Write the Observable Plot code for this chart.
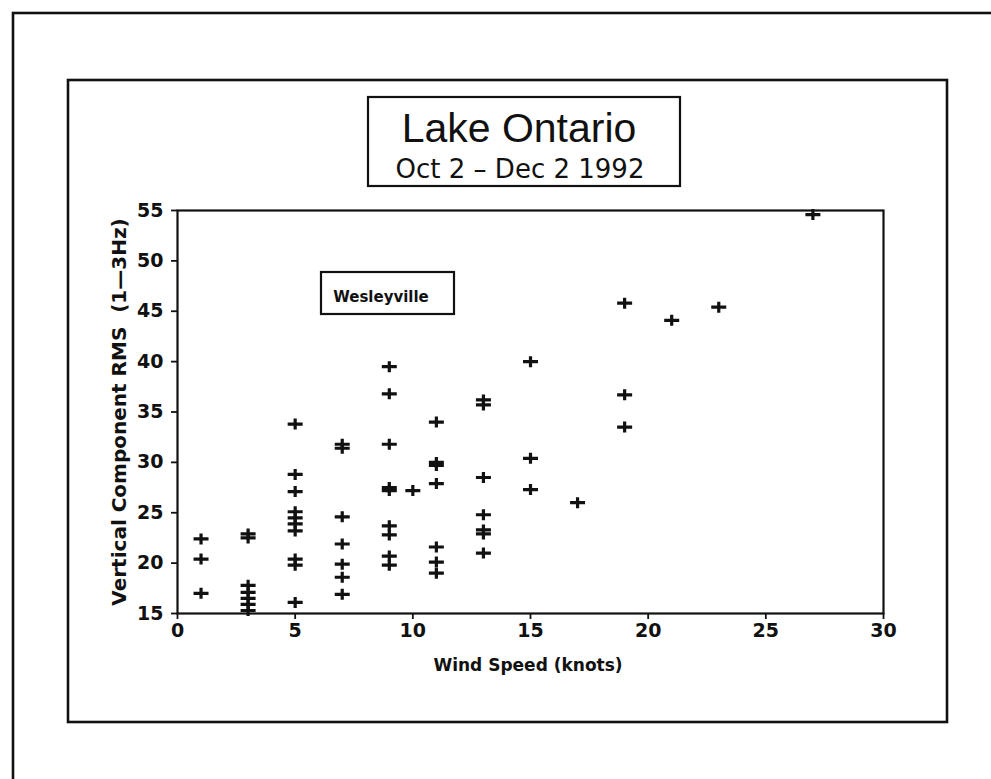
<!DOCTYPE html>
<html>
<head>
<meta charset="utf-8">
<script src="https://cdn.jsdelivr.net/npm/d3@7"></script>
<script src="https://cdn.jsdelivr.net/npm/@observablehq/plot@0.6"></script>
<style>
  html, body { margin: 0; padding: 0; background: #fff; }
  #chart { position: relative; width: 991px; height: 779px; overflow: hidden; }
</style>
</head>
<body>
<div id="chart"></div>
<script>
// Wind speed (knots) and vertical component RMS (1-3 Hz), Wesleyville
const windSpeed = [
  1, 1, 1,
  3, 3, 3, 3, 3, 3, 3,
  5, 5, 5, 5, 5, 5, 5, 5, 5, 5,
  7, 7, 7, 7, 7, 7, 7,
  9, 9, 9, 9, 9, 9, 9, 9, 9,
  10,
  11, 11, 11, 11, 11, 11, 11,
  13, 13, 13, 13, 13, 13, 13,
  15, 15, 15,
  17,
  19, 19, 19,
  21,
  23,
  27
];
const rms = [
  22.4, 20.4, 17.0,
  22.9, 22.5, 17.8, 17.1, 16.5, 15.9, 15.3,
  33.8, 28.8, 27.1, 25.1, 24.5, 23.9, 23.2, 20.4, 19.8, 16.1,
  31.8, 31.4, 24.6, 21.9, 19.9, 18.6, 16.9,
  39.5, 36.8, 31.8, 27.5, 27.2, 23.7, 22.8, 20.7, 19.8,
  27.2,
  34.0, 30.0, 29.7, 27.9, 21.6, 20.1, 19.0,
  36.2, 35.7, 28.5, 24.8, 23.3, 22.9, 21.0,
  40.0, 30.4, 27.3,
  26.0,
  45.8, 36.7, 33.5,
  44.1,
  45.4,
  54.6
];
const xTicks = [0, 5, 10, 15, 20, 25, 30];
const yTicks = [15, 20, 25, 30, 35, 40, 45, 50, 55];
const titleText = "Lake Ontario";
const subtitleText = "Oct 2 \u2013 Dec 2 1992";
const stationText = "Wesleyville";
const xLabelText = "Wind Speed (knots)";
const yLabelText = "Vertical Component RMS  (1\u20143Hz)";

const points = windSpeed.map((w, i) => ({w, v: rms[i]}));

const plusSymbol = {
  draw(ctx) {
    ctx.moveTo(-7.5, 0); ctx.lineTo(7.5, 0);
    ctx.moveTo(0, -5.5); ctx.lineTo(0, 5.5);
  }
};

const plot = Plot.plot({
  width: 991,
  height: 779,
  marginLeft: 177,
  marginRight: 108,
  marginTop: 210,
  marginBottom: 166,
  style: {fontFamily: "DejaVu Sans", fontSize: "19px", fontWeight: "bold", color: "#111", background: "#fff"},
  x: {domain: [0, 30], ticks: xTicks, label: null},
  y: {domain: [15, 55], ticks: yTicks, label: null},
  marks: [
    Plot.axisX({ticks: xTicks, tickSize: 6, tickPadding: 4, label: null, stroke: "#111", strokeWidth: 1.8}),
    Plot.axisY({ticks: yTicks, tickSize: 6, tickPadding: 8, label: null, stroke: "#111", strokeWidth: 1.8}),
    Plot.frame({stroke: "#111", strokeWidth: 2.2}),
    Plot.dot(points, {x: "w", y: "v", symbol: plusSymbol, r: 5, stroke: "#111", fill: "none", strokeWidth: 3.2})
  ]
});

const svg = d3.select(plot);
const deco = svg.append("g").attr("fill", "none").attr("stroke", "#111");
// outer page frame (extends past the right and bottom edges)
deco.append("rect").attr("x", 13).attr("y", 13).attr("width", 1100).attr("height", 900).attr("stroke-width", 2.6);
// inner figure frame
deco.append("rect").attr("x", 68).attr("y", 80).attr("width", 879).attr("height", 642).attr("stroke-width", 2.6);
// title box
deco.append("rect").attr("x", 368).attr("y", 97).attr("width", 312).attr("height", 89).attr("stroke-width", 2.2);
// station box
deco.append("rect").attr("x", 321).attr("y", 272).attr("width", 133).attr("height", 42).attr("stroke-width", 2.2);

const txt = svg.append("g").attr("fill", "#111").attr("text-anchor", "middle");
txt.append("text").attr("x", 519).attr("y", 142)
  .style("font-family", "Liberation Sans, Arial, sans-serif").style("font-size", "41px").style("font-weight", "normal")
  .text(titleText);
txt.append("text").attr("x", 520).attr("y", 178)
  .style("font-family", "DejaVu Sans, sans-serif").style("font-size", "26px").style("font-weight", "normal")
  .text(subtitleText);
txt.append("text").attr("x", 381).attr("y", 302)
  .style("font-family", "DejaVu Sans, sans-serif").style("font-size", "15px").style("font-weight", "bold")
  .text(stationText);
txt.append("text").attr("x", 528).attr("y", 671)
  .style("font-family", "DejaVu Sans, sans-serif").style("font-size", "17px").style("font-weight", "bold")
  .text(xLabelText);
txt.append("text").attr("transform", "translate(126,412) rotate(-90)")
  .style("font-family", "DejaVu Sans, sans-serif").style("font-size", "20px").style("font-weight", "bold")
  .style("white-space", "pre")
  .text(yLabelText);

document.getElementById("chart").appendChild(plot);
</script>
</body>
</html>
